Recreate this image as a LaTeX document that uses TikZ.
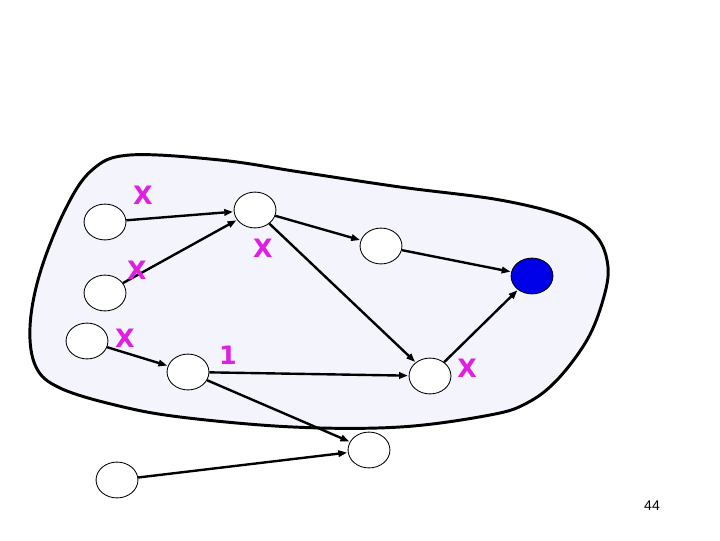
\documentclass[tikz,border=0pt]{standalone}
\usepackage{fontspec}
\setmainfont{DejaVu Sans}
\newfontfamily\numfont{Liberation Sans}
\usetikzlibrary{arrows.meta,shapes.geometric}
\definecolor{blobfill}{HTML}{F4F4FC}
\definecolor{mark}{HTML}{E020E0}
\definecolor{sinkblue}{HTML}{0000E8}
\tikzset{
  >={Triangle[length=2.2mm,width=1.6mm]},
  v/.style={ellipse,draw,line width=0.6pt,fill=white,minimum width=29.8pt,minimum height=25.5pt,inner sep=0pt},
  e/.style={->,line width=1.7pt,shorten >=0.5pt},
  xm/.style={text=mark,font=\fontsize{18}{18}\selectfont\bfseries,inner sep=0pt},
}
\begin{document}
\begin{tikzpicture}[x=0.025cm,y=-0.025cm]
\useasboundingbox (0,0) rectangle (720,540);
% region
\draw[line width=2.1pt,fill=blobfill] plot[smooth cycle,tension=0.6] coordinates {
  (130,155) (220,160) (300,172) (400,187) (500,200) (567,217) (597,237) (608,267)
  (603,300) (587,340) (557,380) (527,403) (490,415) (400,427) (293,427) (180,417)
  (115,405) (60,388) (36,367) (30,327) (40,273) (65,210) (92,170)};
% vertices
\node[v] (a1) at (105,222){}; \node[v] (a2) at (105,293){}; \node[v] (a3) at (87,341){};
\node[v] (b1) at (255,210){}; \node[v] (b2) at (188,372){}; \node[v] (c) at (381,246){};
\node[v,fill=sinkblue] (t) at (532,276){}; \node[v] (d) at (430,376){};
\node[v] (g) at (369,450){}; \node[v] (f) at (117,480){};
% edges
\draw[e] (a1)--(b1); \draw[e] (a2)--(b1); \draw[e] (a3)--(b2);
\draw[e] (b1)--(c); \draw[e] (b1)--(d); \draw[e] (c)--(t);
\draw[e] (b2)--(d); \draw[e] (d)--(t); \draw[e] (b2)--(g); \draw[e] (f)--(g);
% marks
\node[xm] (x1) at (143,195){X}; \node[xm] (x2) at (137,270){X}; \node[xm] (x3) at (125,338){X};
\node[xm] (x4) at (263,248){X}; \node[xm] (x5) at (467,368){X};
\node[xm] (one) at (228,355){1};
\node[font=\numfont\fontsize{10}{10}\selectfont,inner sep=0pt] (pg) at (652,506){44};
\end{tikzpicture}
\end{document}
